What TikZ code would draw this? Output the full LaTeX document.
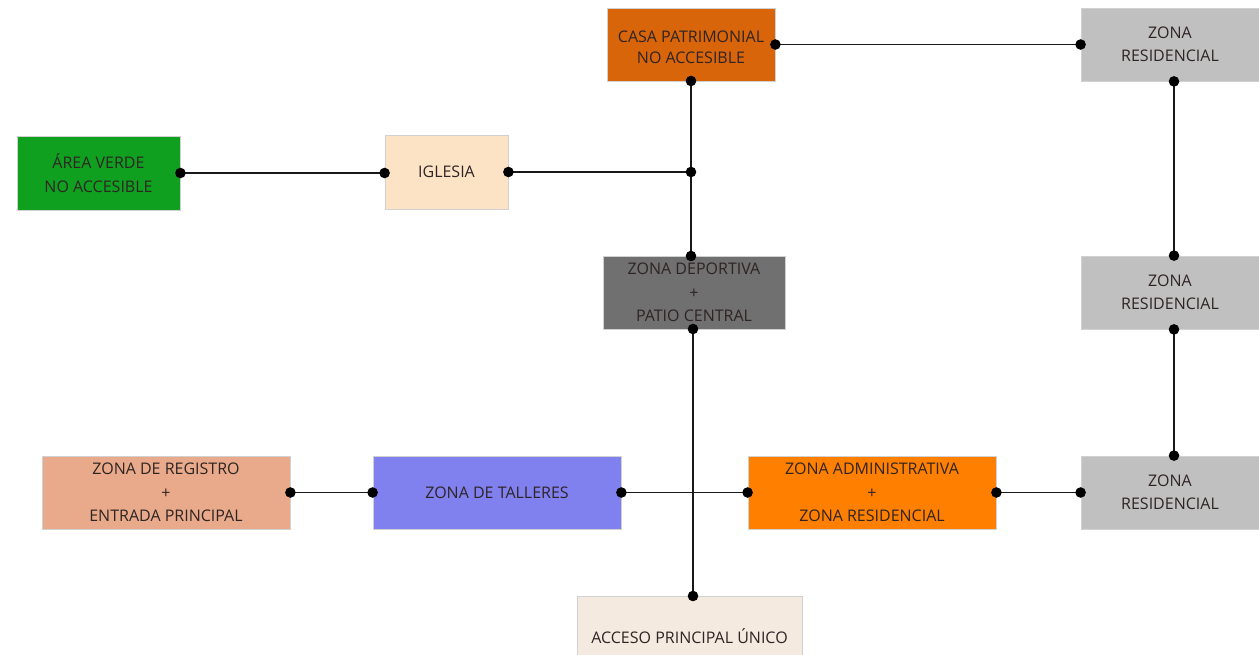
\documentclass[tikz,border=0pt]{standalone}
\usepackage{fontspec}
\setmainfont{Open Sans}
\newcommand{\lowr}[1]{\raisebox{-3pt}[\height][\depth]{#1}}
\begin{document}
\begin{tikzpicture}[x=1pt,y=-1pt,
  box/.style={draw=black!18, line width=0.8pt, rectangle, inner sep=0pt, align=center,
    text=txt, font=\fontsize{16}{23.5}\selectfont},
  conn/.style={line width=1.8pt, draw=black!90},
  dotr/.style={fill=black}
]
\definecolor{txt}{HTML}{2E2424}
\definecolor{casa}{HTML}{D9650A}
\definecolor{verde}{HTML}{0FA020}
\definecolor{igl}{HTML}{FDE3C6}
\definecolor{dep}{HTML}{707070}
\definecolor{gris}{HTML}{C0C0C0}
\definecolor{reg}{HTML}{E8AA8A}
\definecolor{tal}{HTML}{8080EE}
\definecolor{adm}{HTML}{FF8000}
\definecolor{acc}{HTML}{F4EADF}
\useasboundingbox (0,0) rectangle (1259,655);

\node[box, fill=casa, minimum width=168pt, minimum height=73pt, font=\fontsize{16}{21.5}\selectfont] (casa) at (691,44.5) {\lowr{CASA PATRIMONIAL}\\\lowr{NO ACCESIBLE}};
\node[box, fill=gris, minimum width=178pt, minimum height=73pt] (zr1) at (1170,44.5) {ZONA\\RESIDENCIAL};
\node[box, fill=verde, minimum width=163pt, minimum height=74pt] (verde) at (98.5,173) {ÁREA VERDE\\NO ACCESIBLE};
\node[box, fill=igl, minimum width=123pt, minimum height=74pt] (igl) at (446.5,172) {IGLESIA};
\node[box, fill=dep, minimum width=182pt, minimum height=73pt] (dep) at (694,292.5) {ZONA DEPORTIVA\\+\\PATIO CENTRAL};
\node[box, fill=gris, minimum width=178pt, minimum height=73pt] (zr2) at (1170,292.5) {ZONA\\RESIDENCIAL};
\node[box, fill=reg, minimum width=248pt, minimum height=73pt] (reg) at (166,492.5) {ZONA DE REGISTRO\\+\\ENTRADA PRINCIPAL};
\node[box, fill=tal, minimum width=248pt, minimum height=73pt] (tal) at (497,492.5) {ZONA DE TALLERES};
\node[box, fill=adm, minimum width=248pt, minimum height=73pt] (adm) at (872,492.5) {ZONA ADMINISTRATIVA\\+\\ZONA RESIDENCIAL};
\node[box, fill=gris, minimum width=178pt, minimum height=73pt] (zr3) at (1170,492.5) {ZONA\\RESIDENCIAL};
\node[box, fill=acc, minimum width=225pt, minimum height=62pt] (acc) at (689.5,627) {};
\node[text=txt, font=\fontsize{16}{21.5}\selectfont] (acct) at (acc.center |- 0,636) {ACCESO PRINCIPAL ÚNICO};

\coordinate (j) at (691,172);
\coordinate (casab) at (691,81);
\coordinate (dept) at (691,256);
\coordinate (depb) at (693,329);
\coordinate (acct2) at (693,596);
\coordinate (zrx) at (1174,0);

% connectors
\draw[conn] (casa.east) -- (zr1.west);
\draw[conn] (verde.east) -- (verde.east -| igl.west);
\draw[conn] (igl.east) -- (j);
\draw[conn] (casab) -- (dept);
\draw[conn] (zrx |- zr1.south) -- (zrx |- zr2.north);
\draw[conn] (zrx |- zr2.south) -- (zrx |- zr3.north);
\draw[conn] (reg.east) -- (tal.west);
\draw[conn] (tal.east) -- (adm.west);
\draw[conn] (depb) -- (acct2);
\draw[conn] (adm.east) -- (zr3.west);

% dots
\foreach \p in {(casa.east),(zr1.west),(verde.east),(verde.east -| igl.west),(igl.east),(j),(casab),(dept),
  (zrx |- zr1.south),(zrx |- zr2.north),(zrx |- zr2.south),(zrx |- zr3.north),
  (reg.east),(tal.west),(tal.east),(adm.west),(depb),(acct2),(adm.east),(zr3.west)}
  \fill[dotr] \p circle (5.3pt);
\end{tikzpicture}
\end{document}
